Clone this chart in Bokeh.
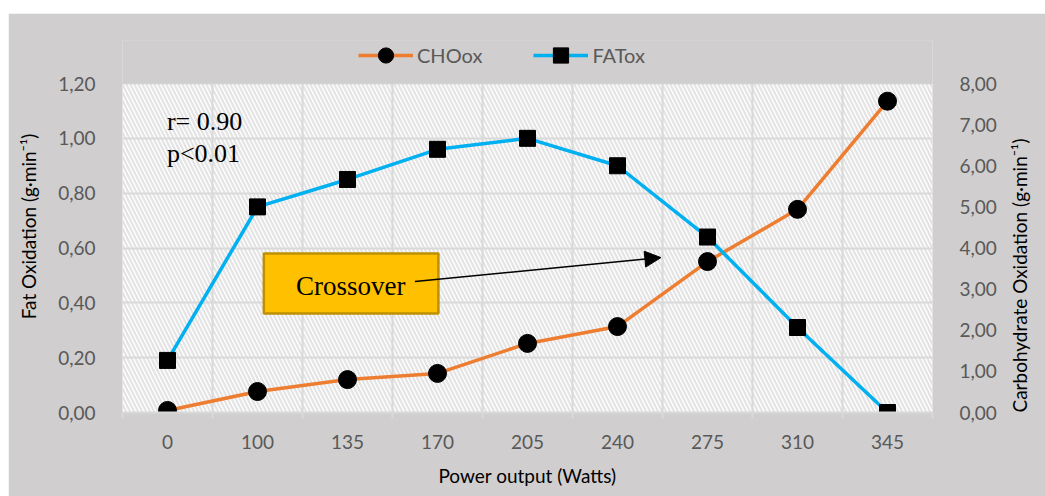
import math
from bokeh.plotting import figure
from bokeh.models import (Range1d, LinearAxis, FixedTicker, CustomJSTickFormatter,
                          BoxAnnotation, Label, Arrow, NormalHead)
from bokeh.embed import file_html
from bokeh.resources import INLINE

# ---- data ----
power = ["0", "100", "135", "170", "205", "240", "275", "310", "345"]
cho_ox = [0.05, 0.51, 0.80, 0.95, 1.68, 2.09, 3.67, 4.94, 7.57]
fat_ox = [0.19, 0.75, 0.85, 0.96, 1.00, 0.90, 0.64, 0.31, 0.00]
left_ticks = [0, 0.2, 0.4, 0.6, 0.8, 1.0, 1.2]
right_ticks = [0, 1, 2, 3, 4, 5, 6, 7, 8]
LEFT_MAX = 1.2
RIGHT_MAX = 8

xpos = [i + 0.5 for i in range(len(power))]
bounds = list(range(len(power) + 1))

FONT = "Lato"
GREY = "#595959"
GRID = "#D9D9D9"
BG = "#D0CECE"

# layout (pixels): plot area spans 329 px for the data range; the frame is extended
# upward so the legend can sit inside it above the plotting area
AREA_H = 329
FRAME_H = 372
ext = FRAME_H / AREA_H

p = figure(width=1037, height=483, output_backend="svg", toolbar_location=None,
           x_range=Range1d(0, len(power)), y_range=Range1d(0, LEFT_MAX * ext),
           min_border_left=114, min_border_right=103, min_border_top=27, min_border_bottom=84)
p.margin = (13, 0, 0, 8)
p.border_fill_color = BG
p.background_fill_color = BG
p.outline_line_color = None
p.extra_y_ranges = {"cho": Range1d(0, RIGHT_MAX * ext)}

# hatched plot background (only the data area)
bg = BoxAnnotation(left=0, right=len(power), bottom=0, top=LEFT_MAX, fill_color="white", fill_alpha=1,
                   hatch_pattern="\\", hatch_color="#E3E3E3", hatch_scale=8, hatch_weight=2.2,
                   line_alpha=0, level="image")
p.add_layout(bg)
# grey mask over the strip above the data area (hides vertical grid lines there)
mask = BoxAnnotation(left=0, right=len(power), bottom=LEFT_MAX, top=LEFT_MAX * ext * 1.02,
                     fill_color=BG, fill_alpha=1, line_alpha=0, level="glyph")
p.add_layout(mask)

# x axis
xa = p.xaxis[0]
xa.ticker = FixedTicker(ticks=xpos, minor_ticks=bounds)
xa.formatter = CustomJSTickFormatter(args=dict(labels=power), code="return labels[Math.floor(tick)];")
xa.axis_line_color = GRID
xa.axis_line_width = 2
xa.major_tick_line_color = None
xa.major_tick_out = 0
xa.major_tick_in = 0
xa.minor_tick_line_color = GRID
xa.minor_tick_line_width = 2
xa.minor_tick_out = 6
xa.minor_tick_in = 0
xa.major_label_text_font = FONT
xa.major_label_text_font_size = "19px"
xa.major_label_text_color = GREY
xa.major_label_standoff = 16
xa.axis_label = "Power output (Watts)"
xa.axis_label_text_font = FONT
xa.axis_label_text_font_size = "19px"
xa.axis_label_text_font_style = "normal"
xa.axis_label_text_color = "black"
xa.axis_label_standoff = 12

# left axis
ya = p.yaxis[0]
ya.ticker = FixedTicker(ticks=left_ticks)
ya.formatter = CustomJSTickFormatter(code="return tick.toFixed(2).replace('.', ',');")
ya.axis_line_color = None
ya.major_tick_line_color = None
ya.minor_tick_line_color = None
ya.major_label_text_font = FONT
ya.major_label_text_font_size = "19px"
ya.major_label_text_color = GREY
ya.major_label_standoff = 21
ya.axis_label = "Fat Oxidation (g·min⁻¹)"
ya.axis_label_text_font = FONT
ya.axis_label_text_font_size = "19px"
ya.axis_label_text_font_style = "normal"
ya.axis_label_text_color = "black"
ya.axis_label_standoff = 15

# right axis
ra = LinearAxis(y_range_name="cho", ticker=FixedTicker(ticks=right_ticks),
                formatter=CustomJSTickFormatter(code="return tick.toFixed(2).replace('.', ',');"))
ra.axis_line_color = None
ra.major_tick_line_color = None
ra.minor_tick_line_color = None
ra.major_label_text_font = FONT
ra.major_label_text_font_size = "19px"
ra.major_label_text_color = GREY
ra.major_label_standoff = 21
ra.axis_label = "Carbohydrate Oxidation (g·min⁻¹)"
ra.axis_label_text_font = FONT
ra.axis_label_text_font_size = "19px"
ra.axis_label_text_font_style = "normal"
ra.axis_label_text_color = "black"
ra.axis_label_standoff = 20
ra.axis_label_orientation = math.pi / 2
try:
    ra.axis_label_align = "start"
except Exception:
    pass
p.add_layout(ra, "right")

# grids
p.xgrid.ticker = FixedTicker(ticks=bounds)
p.xgrid.grid_line_color = GRID
p.xgrid.grid_line_width = 2
p.ygrid.grid_line_color = GRID
p.ygrid.grid_line_width = 2

# series
p.line(xpos, cho_ox, y_range_name="cho", line_color="#ED7D31", line_width=3.5, legend_label="CHOox")
p.scatter(xpos, cho_ox, y_range_name="cho", marker="circle", size=18, fill_color="black",
          line_color="black", legend_label="CHOox")
p.line(xpos, fat_ox, line_color="#00B0F0", line_width=3.5, legend_label="FATox")
p.scatter(xpos, fat_ox, marker="square", size=16, fill_color="black", line_color="black",
          legend_label="FATox")

# legend
lg = p.legend[0]
lg.orientation = "horizontal"
lg.location = (236, 338)
lg.background_fill_alpha = 0
lg.border_line_alpha = 0
lg.padding = 0
lg.margin = 0
lg.spacing = 51
lg.glyph_width = 55
lg.glyph_height = 38
lg.label_standoff = 4
lg.label_text_font = FONT
lg.label_text_font_size = "20px"
lg.label_text_color = GREY

# annotations
p.add_layout(Label(x=0.494, y=1.061, text="r= 0.90", text_font="Liberation Serif",
                   text_font_size="26px", text_color="black", text_baseline="alphabetic"))
p.add_layout(Label(x=0.494, y=0.945, text="p<0.01", text_font="Liberation Serif",
                   text_font_size="26px", text_color="black", text_baseline="alphabetic"))
p.add_layout(BoxAnnotation(left=1.57, right=3.51, bottom=0.361, top=0.58, fill_color="#FFC000",
                           fill_alpha=1, line_color="#BF9000", line_width=2.5, line_alpha=1,
                           level="annotation"))
p.add_layout(Label(x=2.535, y=0.46, text="Crossover", text_font="Liberation Serif",
                   text_font_size="27px", text_color="black", text_align="center",
                   text_baseline="middle"))
p.add_layout(Arrow(x_start=3.249, y_start=0.478, x_end=5.982, y_end=0.565, line_width=1.5,
                   line_color="black",
                   end=NormalHead(size=16, fill_color="black", line_color="black")))

open("out.html", "w").write(file_html(p, INLINE))
